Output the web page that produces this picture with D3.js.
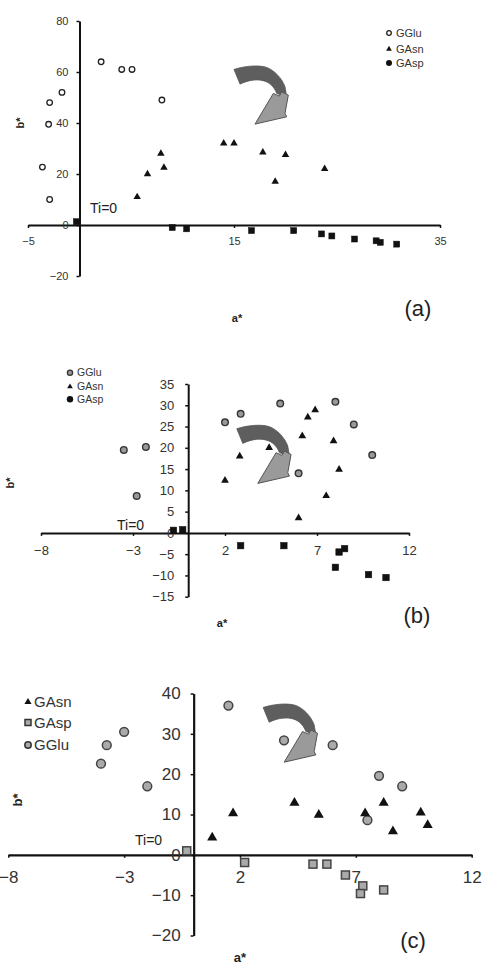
<!DOCTYPE html>
<html><head><meta charset="utf-8">
<script src="https://cdn.jsdelivr.net/npm/d3@7"></script>
<style>
body{margin:0;background:#fff}
svg{display:block}
text{font-family:"Liberation Sans",Arial,Helvetica,sans-serif}
</style>
</head><body>
<script>
// ---------- DATA ----------
// Panel (a)
const aXTicks = [-5, 15, 35];
const aYTicks = [-20, 0, 20, 40, 60, 80];
const aGGlu = [[2.1,64],[4.1,61],[5.1,61],[-1.7,52],[-2.9,48],[-3.0,39.5],[8.0,49],[-3.6,22.7],[-2.9,10]];
const aGAsn = [[14.0,32],[15.0,32],[7.9,28],[8.2,22.5],[6.6,20],[5.6,11],[17.8,28.5],[20.0,27.5],[19.0,17],[23.8,22]];
const aGAsp = [[-0.3,1.3],[9.0,-1],[10.4,-1.5],[16.7,-2.2],[20.8,-2.2],[23.5,-3.5],[24.5,-4.3],[26.7,-5.5],[28.8,-6.2],[29.2,-6.8],[30.8,-7.5]];
const aLegend = ["GGlu", "GAsn", "GAsp"];
const aArrow = [15.0, 62.7];

// Panel (b)
const bXTicks = [-8, -3, 2, 7, 12];
const bYTicks = [-15, -10, -5, 0, 5, 10, 15, 20, 25, 30, 35];
const bGGlu = [[-3.5,19.5],[-2.3,20.2],[-2.8,8.7],[2.0,26],[2.85,28],[5.0,30.4],[8.0,30.8],[9.0,25.5],[10.0,18.3],[6.0,14]];
const bGAsn = [[2.0,12.3],[2.8,18],[4.4,20],[6.2,22.8],[6.5,27.2],[6.9,28.9],[7.9,21.6],[8.2,14.9],[7.5,8.7],[6.0,3.5]];
const bGAsp = [[-0.8,0.6],[-0.3,0.75],[2.85,-3],[5.2,-3],[8.2,-4.5],[8.5,-3.7],[8.0,-8.1],[9.8,-9.8],[10.75,-10.5]];
const bLegend = ["GGlu", "GAsn", "GAsp"];
const bArrow = [2.64, 25.5];

// Panel (c)
const cXTicks = [-8, -3, 2, 7, 12];
const cYTicks = [-20, -10, 0, 10, 20, 30, 40];
const cGGlu = [[1.5,37],[-3.0,30.5],[-3.75,27.2],[-4.0,22.6],[-2.0,17],[3.9,28.4],[6.0,27.2],[8.0,19.6],[9.0,17],[7.5,8.6]];
const cGAsn = [[0.8,4.3],[1.7,10.3],[4.35,12.9],[5.4,9.9],[7.4,10.3],[8.2,12.9],[8.6,5.8],[9.8,10.5],[10.1,7.4]];
const cGAsp = [[-0.3,1.0],[2.2,-1.9],[5.15,-2.3],[5.75,-2.3],[6.55,-5],[7.3,-7.7],[7.2,-9.6],[8.2,-8.7]];
const cLegend = ["GAsn", "GAsp", "GGlu"];
const cArrow = [3.0, 37.6];

// ---------- DRAW ----------
const W = 484, H = 968;
const svg = d3.select("body").append("svg").attr("width", W).attr("height", H);

const bandPath = "M0,4.3 C10,1 24,-0.5 32.7,2.3 C40,5 48,13 51,21.7 L52.7,31.7 L42.7,28.3 C41,24 38,19 32,16.5 C25,13.5 15,14.5 6,19 Z";
const headPath = "M39.3,28.3 L45.3,31 L47.7,26.7 L54.3,30 L51,48.3 L52.7,51.7 L21,59 Z";

function marker(g, type, st, x, y) {
  if (type === "circle") {
    g.append("circle").attr("cx", x).attr("cy", y).attr("r", st.r)
      .attr("fill", st.cFill).attr("stroke", st.cStroke).attr("stroke-width", st.cSW);
  } else if (type === "tri") {
    g.append("path").attr("d", d3.symbol().type(d3.symbolTriangle).size(st.tri)())
      .attr("transform", `translate(${x},${y})`).attr("fill", "#111");
  } else if (type === "square") {
    g.append("rect").attr("x", x - st.sq/2).attr("y", y - st.sq/2)
      .attr("width", st.sq).attr("height", st.sq)
      .attr("fill", st.sFill).attr("stroke", st.sStroke).attr("stroke-width", st.sSW);
  } else if (type === "dot") {
    g.append("circle").attr("cx", x).attr("cy", y).attr("r", st.dotR).attr("fill", "#111");
  }
}

function panel(cfg) {
  const g = svg.append("g");
  const x = d3.scaleLinear().domain(cfg.xDom).range(cfg.xRange);
  const y = d3.scaleLinear().domain(cfg.yDom).range(cfg.yRange);

  // axes
  const xa = g.append("g").attr("transform", `translate(0,${y(0)})`)
    .call(d3.axisBottom(x).tickValues(cfg.xTicks).tickSize(3).tickSizeOuter(0).tickPadding(cfg.xPad));
  const ya = g.append("g").attr("transform", `translate(${x(0)},0)`)
    .call(d3.axisLeft(y).tickValues(cfg.yTicks).tickSize(3).tickSizeOuter(0).tickPadding(cfg.yPad));
  [xa, ya].forEach(a => {
    a.select(".domain").attr("stroke", "#111").attr("stroke-width", cfg.axSW);
    a.selectAll(".tick line").attr("stroke", "#111").attr("stroke-width", 1.5);
    a.selectAll("text").attr("font-size", cfg.tickFS).attr("fill", "#333")
      .attr("font-family", '"Liberation Sans",Arial,sans-serif');
  });

  // arrow
  const ag = g.append("g").attr("transform", `translate(${x(cfg.arrow[0])},${y(cfg.arrow[1])})`);
  ag.append("path").attr("d", bandPath).attr("fill", "#5e5e5e").attr("stroke", "#555").attr("stroke-width", 0.8);
  ag.append("path").attr("d", headPath).attr("fill", "#9a9a9a").attr("stroke", "#555").attr("stroke-width", 1);

  // points
  cfg.GGlu.forEach(d => marker(g, "circle", cfg.st, x(d[0]), y(d[1])));
  cfg.GAsn.forEach(d => marker(g, "tri", cfg.st, x(d[0]), y(d[1])));
  cfg.GAsp.forEach(d => marker(g, "square", cfg.st, x(d[0]), y(d[1])));

  // Ti=0
  g.append("text").attr("x", cfg.ti[0]).attr("y", cfg.ti[1]).attr("font-size", 14).attr("fill", "#222").text("Ti=0");

  // axis titles
  g.append("text").attr("transform", `translate(${cfg.bLab[0]},${cfg.bLab[1]}) rotate(-90)`)
    .attr("text-anchor", "middle").attr("font-size", cfg.labFS).attr("font-weight", "bold").attr("fill", "#222").text("b*");
  g.append("text").attr("x", cfg.aLab[0]).attr("y", cfg.aLab[1])
    .attr("text-anchor", "middle").attr("font-size", cfg.labFS).attr("font-weight", "bold").attr("fill", "#222").text("a*");

  // panel label
  g.append("text").attr("x", cfg.pLab[0]).attr("y", cfg.pLab[1]).attr("text-anchor", "middle")
    .attr("font-size", 22).attr("fill", "#222").text(cfg.pText);

  // legend
  cfg.legend.forEach((name, i) => {
    const ly = cfg.legY[i];
    marker(g, cfg.legTypes[i], cfg.legSt, cfg.legX, ly);
    g.append("text").attr("x", cfg.legX + cfg.legGap).attr("y", ly).attr("dy", "0.36em")
      .attr("font-size", cfg.legFS).attr("fill", "#333").text(name);
  });
}

panel({
  xDom: [-5, 35], xRange: [28, 440], yDom: [-20, 80], yRange: [276, 21],
  xTicks: aXTicks, yTicks: aYTicks, xPad: 9, yPad: 8, tickFS: 11, axSW: 2,
  GGlu: aGGlu, GAsn: aGAsn, GAsp: aGAsp, arrow: aArrow,
  st: { r: 2.8, cFill: "#fff", cStroke: "#222", cSW: 1.3, tri: 24, sq: 6, sFill: "#111", sStroke: "#111", sSW: 0.5 },
  ti: [90, 213], bLab: [24, 123], aLab: [237, 322], labFS: 11, pLab: [418, 316], pText: "(a)",
  legend: aLegend, legTypes: ["circle", "tri", "dot"], legX: 389, legGap: 7, legY: [33, 49, 63], legFS: 11,
  legSt: { r: 2.3, cFill: "#fff", cStroke: "#222", cSW: 1.3, tri: 14, dotR: 3 }
});

panel({
  xDom: [-8, 12], xRange: [41, 409], yDom: [-15, 35], yRange: [596.7, 384],
  xTicks: bXTicks, yTicks: bYTicks, xPad: 10, yPad: 11, tickFS: 13, axSW: 2,
  GGlu: bGGlu, GAsn: bGAsn, GAsp: bGAsp, arrow: bArrow,
  st: { r: 3.3, cFill: "#999", cStroke: "#333", cSW: 1.4, tri: 26, sq: 6.5, sFill: "#111", sStroke: "#111", sSW: 0.5 },
  ti: [117, 530], bLab: [14, 483], aLab: [222, 627], labFS: 11, pLab: [417, 623], pText: "(b)",
  legend: bLegend, legTypes: ["circle", "tri", "dot"], legX: 70, legGap: 7, legY: [372.7, 386.7, 399.3], legFS: 10.5,
  legSt: { r: 2.6, cFill: "#999", cStroke: "#333", cSW: 1.3, tri: 14, dotR: 3.2 }
});

panel({
  xDom: [-8, 12], xRange: [8.3, 471.7], yDom: [-20, 40], yRange: [935.5, 693.5],
  xTicks: cXTicks, yTicks: cYTicks, xPad: 13, yPad: 10, tickFS: 17, axSW: 2.2,
  GGlu: cGGlu, GAsn: cGAsn, GAsp: cGAsp, arrow: cArrow,
  st: { r: 4.4, cFill: "#aaa", cStroke: "#444", cSW: 1.5, tri: 44, sq: 8, sFill: "#aaa", sStroke: "#444", sSW: 1.5 },
  ti: [135, 845], bLab: [22, 800], aLab: [240, 962], labFS: 13, pLab: [413, 948], pText: "(c)",
  legend: cLegend, legTypes: ["tri", "square", "circle"], legX: 28, legGap: 6, legY: [702, 722.5, 745], legFS: 15,
  legSt: { r: 3.2, cFill: "#aaa", cStroke: "#333", cSW: 1.5, tri: 22, sq: 6, sFill: "#aaa", sStroke: "#333", sSW: 1.5 }
});
</script>
</body></html>
